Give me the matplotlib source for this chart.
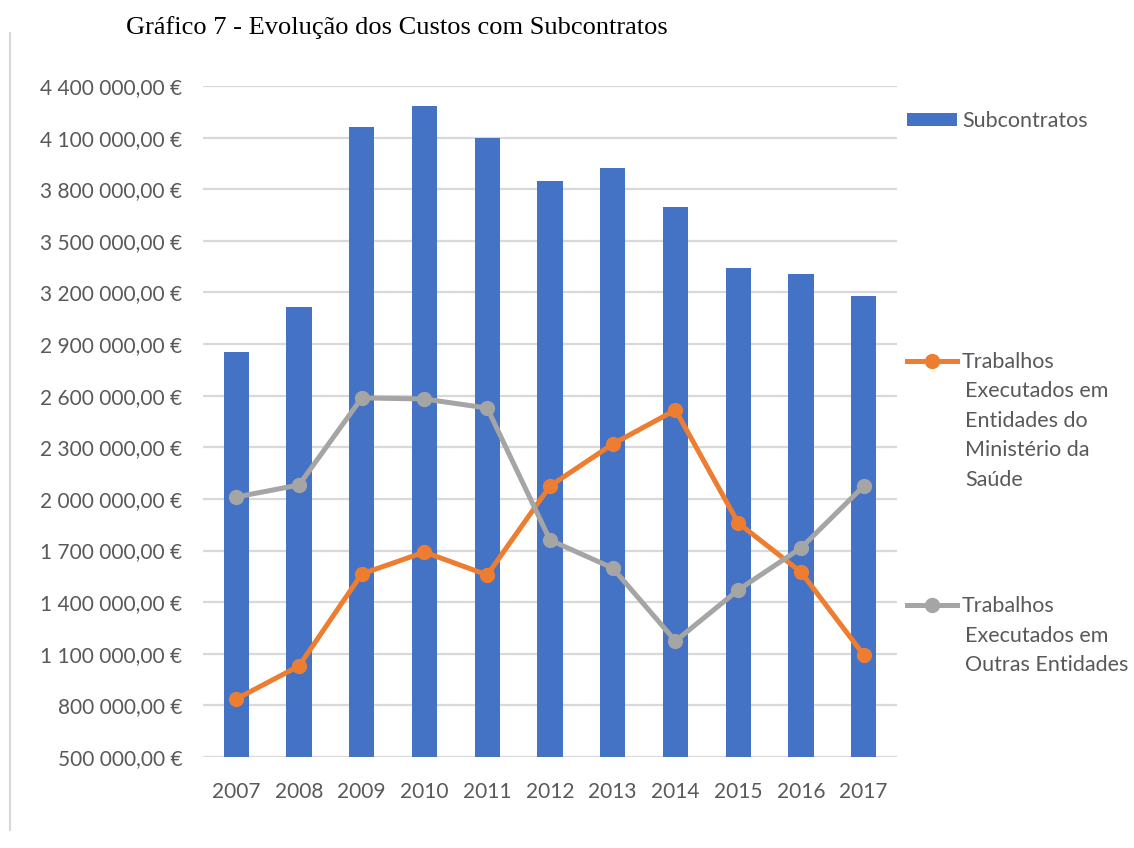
import matplotlib
matplotlib.use("Agg")
import matplotlib.pyplot as plt
from matplotlib.lines import Line2D
from matplotlib.ticker import FuncFormatter

# Custos anuais (euros)
anos = ["2007", "2008", "2009", "2010", "2011", "2012", "2013", "2014", "2015", "2016", "2017"]
subcontratos = [2854000, 3115000, 4162000, 4284000, 4098000, 3848000, 3923000, 3697000, 3342000, 3307000, 3179000]
entidades_ms = [837000, 1029000, 1564000, 1691000, 1558000, 2075000, 2319000, 2517000, 1860000, 1575000, 1093000]
outras_entidades = [2011000, 2081000, 2587000, 2581000, 2528000, 1761000, 1598000, 1174000, 1471000, 1715000, 2075000]
y_ticks = list(range(500000, 4400001, 300000))

AZUL = "#4472C4"
LARANJA = "#ED7D31"
CINZA = "#A5A5A5"
TEXTO = "#595959"
GRELHA = "#D9D9D9"

plt.rcParams["font.family"] = ["Lato", "DejaVu Sans"]

fig = plt.figure(figsize=(11.34, 8.48), dpi=100)
ax = fig.add_axes([0.179, 0.1073, 0.612, 0.7913])

x = list(range(len(anos)))
barras = ax.bar(x, subcontratos, width=0.4, color=AZUL, zorder=2)
linha_ms, = ax.plot(x, entidades_ms, color=LARANJA, lw=3.6, marker="o", ms=10, zorder=3)
linha_out, = ax.plot(x, outras_entidades, color=CINZA, lw=3.6, marker="o", ms=10, zorder=3)

ax.set_xlim(-0.53, len(anos) - 0.47)
ax.set_ylim(500000, 4400000)
ax.set_yticks(y_ticks)
ax.set_xticks(x)
ax.set_xticklabels(anos)


def euros(v, pos):
    s = f"{v:,.2f}".replace(",", " ").replace(".", ",")
    return s + " €"


ax.yaxis.set_major_formatter(FuncFormatter(euros))
ax.tick_params(axis="both", length=0, labelsize=15, labelcolor=TEXTO)
ax.tick_params(axis="y", pad=15)
ax.tick_params(axis="x", pad=18)
ax.yaxis.grid(True, color=GRELHA, lw=1.6, zorder=0)
ax.set_axisbelow(True)
for s in ax.spines.values():
    s.set_visible(False)

fig.text(0.35, 0.968, "Gráfico 7 - Evolução dos Custos com Subcontratos",
         ha="center", va="center", fontsize=19, family="Liberation Serif", color="black")

# legenda à direita, uma entrada de cada vez
entradas = [
    (barras, "Subcontratos", [], 121),
    (linha_ms, "Trabalhos", ["Executados em", "Entidades do", "Ministério da", "Saúde"], 362),
    (linha_out, "Trabalhos", ["Executados em", "Outras Entidades"], 606),
]
for handle, rotulo, resto, ypix in entradas:
    yf = 1 - ypix / 848
    fig.legend([handle], [rotulo], loc="center left", bbox_to_anchor=(907 / 1134, yf),
               frameon=False, fontsize=15.5, labelcolor=TEXTO, handlelength=2.3,
               handleheight=0.55, handletextpad=0.25, borderpad=0, borderaxespad=0)
    for i, linha in enumerate(resto):
        fig.text(965 / 1134, yf - (i + 1) * 29.5 / 848, linha, ha="left", va="center",
                 fontsize=15.5, color=TEXTO)

fig.add_artist(Line2D([10 / 1134, 10 / 1134], [1 - 33 / 848, 1 - 830 / 848],
                      transform=fig.transFigure, color=GRELHA, lw=1.5))

fig.savefig("out.png", dpi=100)
